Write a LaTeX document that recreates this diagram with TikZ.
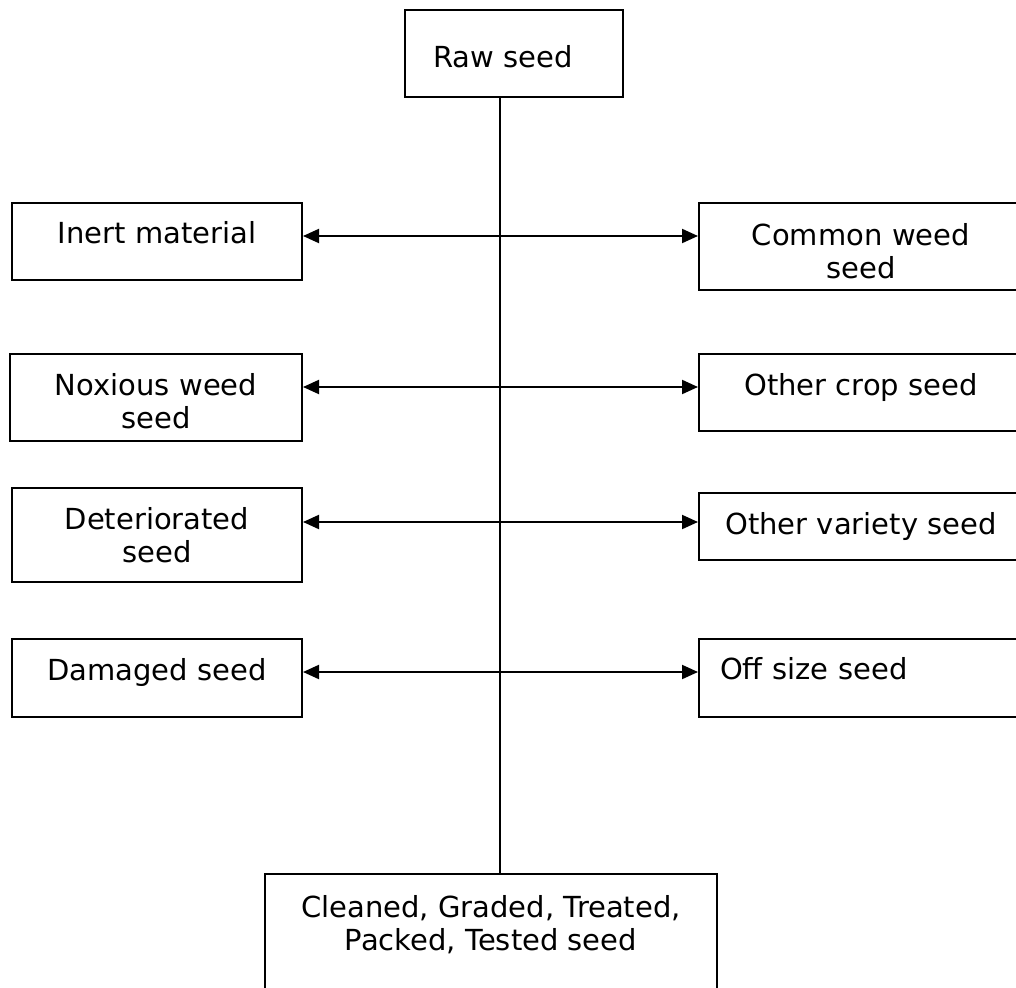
\documentclass[tikz,border=0pt]{standalone}
\usepackage{fontspec}
\setmainfont{DejaVu Sans}
\usetikzlibrary{arrows.meta}
\tikzset{
  box/.style={draw, line width=2pt, rectangle, inner sep=0pt, font=\fontsize{29pt}{33pt}\selectfont},
  lbox/.style={box, minimum width=290pt},
  rbox/.style={box, minimum width=324pt},
  conn/.style={line width=2pt, {Triangle[length=16pt,width=14pt]}-{Triangle[length=16pt,width=14pt]}},
  spine/.style={line width=2pt}
}
\begin{document}
\begin{tikzpicture}[x=1pt,y=-1pt]
\clip (0,0) rectangle (1016,987);
\fill[white] (0,0) rectangle (1016,987);
% boxes
\node[box, minimum height=87pt, text width=162pt, inner xsep=28pt, align=left, text height=28pt, text depth=0pt] (raw) at (514,53.5) {Raw seed};
\node[lbox, minimum height=77pt, text height=22pt, text depth=18pt] (inert) at (157,241.5) {Inert material};
\node[rbox, minimum height=87pt, text width=300pt, align=center, text height=31pt] (common) at (861,246.5) {Common weed\\seed};
\node[box, minimum width=292pt, minimum height=87pt, text width=280pt, align=center, text height=30pt] (noxious) at (156,397.5) {Noxious weed\\seed};
\node[rbox, minimum height=77pt, text height=22pt, text depth=16pt] (othercrop) at (861,392.5) {Other crop seed};
\node[lbox, minimum height=94pt, text width=280pt, align=center] (deter) at (157,535) {Deteriorated\\seed};
\node[rbox, minimum height=67pt] (othervar) at (861,526.5) {Other variety seed};
\node[lbox, minimum height=78pt, text height=22pt, text depth=17pt] (damaged) at (157,678) {Damaged seed};
\node[rbox, minimum height=78pt, text width=282pt, inner xsep=21pt, align=left, text height=22pt, text depth=19pt] (offsize) at (861,678) {Off size seed};
\node[box, minimum width=452pt, minimum height=140pt, anchor=north] (final) at (491,873) {};
\node[font=\fontsize{29pt}{33pt}\selectfont, align=center, inner sep=0pt] (finaltxt) at (491,925) {Cleaned, Graded, Treated,\\Packed, Tested seed};
% spine
\coordinate (sp) at (500,0);
\draw[spine] (raw.south -| sp) -- (final.north -| sp);
% rows
\coordinate (r1) at (500,236);
\coordinate (r2) at (500,387);
\coordinate (r3) at (500,522);
\coordinate (r4) at (500,672);
\draw[conn] (r1 -| inert.east) -- (r1 -| common.west);
\draw[conn] (r2 -| noxious.east) -- (r2 -| othercrop.west);
\draw[conn] (r3 -| deter.east) -- (r3 -| othervar.west);
\draw[conn] (r4 -| damaged.east) -- (r4 -| offsize.west);
\end{tikzpicture}
\end{document}
